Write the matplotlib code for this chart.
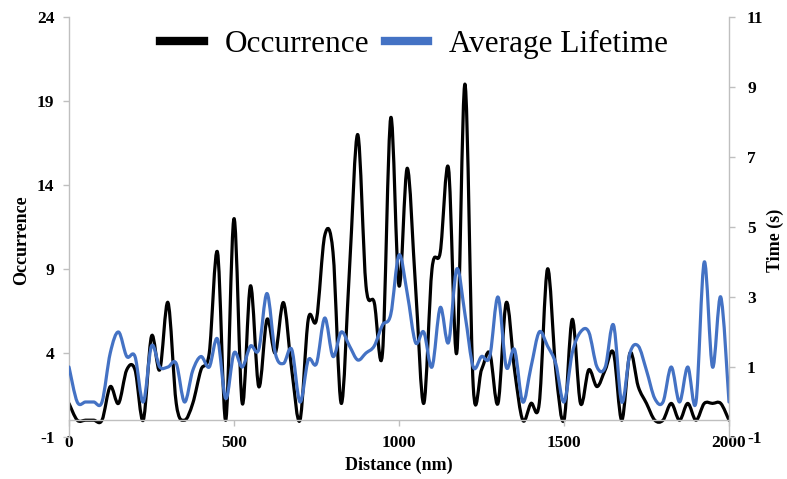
import numpy as np
import matplotlib
matplotlib.use("Agg")
import matplotlib.pyplot as plt
from matplotlib.path import Path
from matplotlib.patches import PathPatch
from matplotlib.lines import Line2D

# ---------------------------------------------------------------------------
# Data (25 nm bins)
# ---------------------------------------------------------------------------
distance = np.arange(0, 2001, 25)

occurrence = [
    1, 0, 0, 0, 0, 2, 1, 3, 3, 0,
    5, 3, 7, 1, 0, 1, 3, 4, 10, 0,
    12, 1, 8, 2, 6, 4, 7, 3, 0, 6,
    6, 11, 10, 1, 9, 17, 8, 7, 4, 18,
    8, 15, 8, 1, 9, 10, 15, 4, 20, 2,
    3, 4, 1, 7, 3, 0, 1, 1, 9, 3,
    0, 6, 1, 3, 2, 3, 4, 0, 4, 2,
    1, 0, 0, 1, 0, 1, 0, 1, 1, 1,
    0,
]

avg_lifetime = [
    1.0, 0.0, 0.0, 0.0, 0.0, 1.4, 2.0, 1.3, 1.3, 0.0,
    1.6, 1.0, 1.0, 1.1, 0.0, 0.9, 1.3, 1.0, 1.8, 0.1,
    1.4, 1.0, 1.6, 1.5, 3.1, 1.4, 1.1, 1.5, 0.0, 1.2,
    1.1, 2.4, 1.3, 2.0, 1.6, 1.2, 1.4, 1.6, 2.2, 2.5,
    4.2, 3.1, 1.7, 2.0, 1.0, 2.7, 1.7, 3.8, 2.5, 1.0,
    1.3, 1.3, 3.0, 1.0, 1.5, 0.0, 1.0, 2.0, 1.6, 1.1,
    0.0, 1.4, 2.0, 2.0, 1.0, 1.0, 2.2, 0.0, 1.4, 1.6,
    0.9, 0.1, 0.0, 1.0, 0.0, 1.0, 0.0, 4.0, 1.0, 3.0,
    0.0,
]

x_ticks = [0, 500, 1000, 1500, 2000]
left_ticks = [-1, 4, 9, 14, 19, 24]
right_ticks = [-1, 1, 3, 5, 7, 9, 11]

BLUE = "#4472C4"
GRID_GRAY = "#BFBFBF"
SERIF = ["Liberation Serif", "DejaVu Serif"]


def smooth_path(x, y):
    """Excel-like smoothed line: cubic Bezier segments through every point."""
    x = np.asarray(x, float)
    y = np.asarray(y, float)
    n = len(x)
    verts = [(x[0], y[0])]
    codes = [Path.MOVETO]
    for i in range(n - 1):
        i0 = max(i - 1, 0)
        i3 = min(i + 2, n - 1)
        c1 = (x[i] + (x[i + 1] - x[i0]) / 6, y[i] + (y[i + 1] - y[i0]) / 6)
        c2 = (x[i + 1] - (x[i3] - x[i]) / 6, y[i + 1] - (y[i3] - y[i]) / 6)
        verts += [c1, c2, (x[i + 1], y[i + 1])]
        codes += [Path.CURVE4] * 3
    return Path(verts, codes)


plt.rcParams["font.family"] = SERIF
plt.rcParams["axes.unicode_minus"] = False

fig = plt.figure(figsize=(7.87, 4.79), dpi=100)
ax = fig.add_axes([69 / 787, 1 - 437 / 479, 660 / 787, 420 / 479])
ax2 = ax.twinx()

# ---- Occurrence (left axis) -----------------------------------------------
ax.add_patch(PathPatch(smooth_path(distance, occurrence), fill=False,
                       edgecolor="black", lw=2.3, capstyle="round",
                       joinstyle="round"))
ax.set_xlim(0, 2000)
ax.set_ylim(-1, 24)
ax.set_xticks(x_ticks)
ax.set_yticks(left_ticks)

# ---- Average lifetime (right axis) ----------------------------------------
ax2.add_patch(PathPatch(smooth_path(distance, avg_lifetime), fill=False,
                        edgecolor=BLUE, lw=2.3, capstyle="round",
                        joinstyle="round"))
ax2.set_ylim(-1, 11)
ax2.set_yticks(right_ticks)

# ---- Axes styling ----------------------------------------------------------
ax.spines["top"].set_visible(False)
ax.spines["right"].set_visible(False)
ax.spines["bottom"].set_position(("data", 0))
for s in ("left", "bottom"):
    ax.spines[s].set_color(GRID_GRAY)
    ax.spines[s].set_linewidth(1.0)
for s in ("top", "bottom", "left"):
    ax2.spines[s].set_visible(False)
ax2.spines["right"].set_color(GRID_GRAY)
ax2.spines["right"].set_linewidth(1.0)

ax.tick_params(axis="both", direction="out", length=4.5, width=1.0,
               color=GRID_GRAY, pad=6)
ax2.tick_params(axis="y", direction="out", length=4.5, width=1.0,
                color=GRID_GRAY, pad=8.5)
for lab in ax.get_xticklabels() + ax.get_yticklabels() + ax2.get_yticklabels():
    lab.set_fontsize(12.5)
    lab.set_fontweight("bold")

fig.text(399 / 787, 1 - 465 / 479, "Distance (nm)", ha="center", va="center",
         fontsize=13, fontweight="bold")
fig.text(22 / 787, 1 - 240 / 479, "Occurrence", ha="center", va="center",
         rotation=90, fontsize=13, fontweight="bold")
fig.text(775 / 787, 1 - 240 / 479, "Time (s)", ha="center", va="center",
         rotation=90, fontsize=13, fontweight="bold")

# ---- Legend ----------------------------------------------------------------
handles = [Line2D([], [], color="black", lw=6),
           Line2D([], [], color=BLUE, lw=6)]
fig.legend(handles, ["Occurrence", "Average Lifetime"], loc="center",
           bbox_to_anchor=(414 / 787, 1 - 44 / 479), ncol=2, frameon=False,
           fontsize=22.5, handlelength=1.4, handletextpad=0.65,
           columnspacing=0.5, borderpad=0, borderaxespad=0)

fig.savefig("out.png", dpi=100)
